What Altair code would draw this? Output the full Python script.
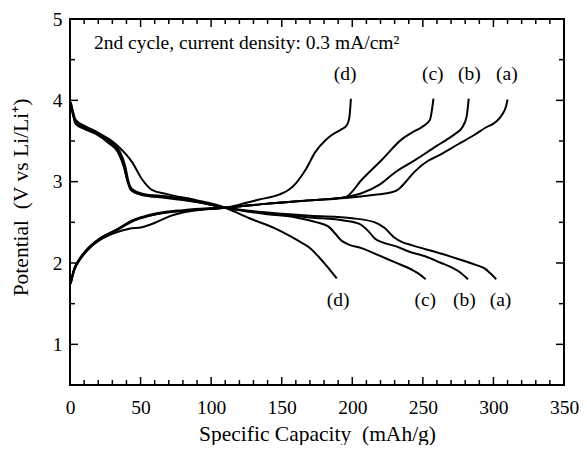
import altair as alt
import pandas as pd

# ---------------- data ----------------
# discharge curves (voltage falls with capacity)
dis_a_cap = [0.5, 2, 4, 10, 18, 27, 34, 38, 40.5, 43, 50, 68, 90, 110, 140, 170, 200, 216, 223, 230, 235, 242, 252, 264, 275, 287, 294, 298, 302]
dis_a_v = [3.97, 3.85, 3.72, 3.66, 3.60, 3.49, 3.37, 3.21, 3.02, 2.90, 2.84, 2.80, 2.75, 2.68, 2.62, 2.58, 2.55, 2.50, 2.43, 2.31, 2.26, 2.22, 2.17, 2.11, 2.05, 1.98, 1.93, 1.87, 1.80]
dis_b_cap = [0.5, 2, 4, 10, 18, 27, 34, 38, 41, 44, 52, 68, 90, 110, 140, 170, 195, 205, 212, 216, 222, 230, 242, 252, 263, 270, 276, 282]
dis_b_v = [3.95, 3.83, 3.71, 3.65, 3.59, 3.48, 3.36, 3.19, 3.00, 2.89, 2.84, 2.81, 2.75, 2.68, 2.61, 2.56, 2.52, 2.48, 2.38, 2.30, 2.25, 2.21, 2.13, 2.08, 2.00, 1.95, 1.89, 1.80]
dis_c_cap = [0.5, 2, 4, 10, 18, 28, 35, 39, 41.5, 44, 52, 68, 90, 110, 140, 160, 175, 183, 188, 192, 197, 207, 218, 230, 242, 247, 252]
dis_c_v = [3.96, 3.84, 3.73, 3.67, 3.61, 3.50, 3.38, 3.20, 3.00, 2.91, 2.85, 2.82, 2.76, 2.68, 2.60, 2.56, 2.50, 2.45, 2.36, 2.28, 2.23, 2.18, 2.10, 2.01, 1.92, 1.87, 1.80]
dis_d_cap = [0.5, 2, 4, 10, 18, 28, 35, 44, 51, 58, 68, 90, 110, 127, 146, 156, 164, 171, 176, 183, 189]
dis_d_v = [3.98, 3.87, 3.76, 3.69, 3.62, 3.52, 3.42, 3.24, 3.03, 2.90, 2.85, 2.77, 2.68, 2.55, 2.42, 2.33, 2.25, 2.17, 2.08, 1.94, 1.81]

# charge curves (voltage rises with capacity)
chg_a_cap = [0.5, 3, 7, 11, 21, 32, 42, 51, 61, 70, 80, 95, 110, 140, 170, 195, 216, 228, 233, 237, 244, 254, 261, 275, 287, 294, 302, 306, 309, 310]
chg_a_v = [1.76, 1.93, 2.05, 2.14, 2.28, 2.37, 2.42, 2.44, 2.50, 2.57, 2.62, 2.66, 2.68, 2.73, 2.77, 2.80, 2.84, 2.87, 2.91, 2.98, 3.12, 3.26, 3.32, 3.46, 3.58, 3.66, 3.74, 3.82, 3.93, 4.01]
chg_b_cap = [0.5, 3, 7, 11, 21, 32, 44, 56, 68, 80, 95, 110, 140, 170, 195, 207, 219, 230, 245, 259, 268, 273, 278, 281, 282.5]
chg_b_v = [1.75, 1.91, 2.04, 2.13, 2.29, 2.39, 2.51, 2.58, 2.62, 2.64, 2.66, 2.68, 2.73, 2.77, 2.81, 2.86, 2.96, 3.11, 3.27, 3.43, 3.53, 3.59, 3.67, 3.80, 4.02]
chg_c_cap = [0.5, 3, 7, 11, 21, 32, 44, 56, 68, 80, 95, 110, 140, 170, 195, 207, 221, 235, 242, 250, 255, 257.5]
chg_c_v = [1.74, 1.92, 2.05, 2.14, 2.30, 2.40, 2.52, 2.59, 2.63, 2.65, 2.67, 2.68, 2.73, 2.77, 2.81, 3.03, 3.27, 3.52, 3.60, 3.68, 3.76, 4.02]
chg_d_cap = [0.5, 3, 7, 11, 21, 32, 44, 56, 68, 80, 95, 110, 125, 134, 148, 155, 160, 164, 167, 174, 181, 186, 192, 196, 198, 199]
chg_d_v = [1.77, 1.93, 2.06, 2.15, 2.30, 2.40, 2.52, 2.58, 2.62, 2.64, 2.66, 2.68, 2.74, 2.78, 2.84, 2.90, 2.98, 3.07, 3.15, 3.37, 3.51, 3.58, 3.64, 3.69, 3.80, 4.02]

# curve labels
top_labels = ["(d)", "(c)", "(b)", "(a)"]
top_label_cap = [195, 257, 283, 309.5]
top_label_v = [4.32, 4.32, 4.32, 4.32]
bottom_labels = ["(d)", "(c)", "(b)", "(a)"]
bottom_label_cap = [190, 251.7, 279.5, 305]
bottom_label_v = [1.54, 1.54, 1.54, 1.54]

note_text = ["2nd cycle, current density: 0.3 mA/cm\u00b2"]
note_cap = [17]
note_v = [4.70]

# axis ticks
x_major = [0, 50, 100, 150, 200, 250, 300, 350]
x_minor = [v for v in range(0, 351, 10) if v % 50 != 0]
y_major = [1, 2, 3, 4, 5]
y_minor = [1.5, 2.5, 3.5, 4.5]

# ---------------- build table ----------------
curves = {
    "dis_a": (dis_a_cap, dis_a_v), "dis_b": (dis_b_cap, dis_b_v),
    "dis_c": (dis_c_cap, dis_c_v), "dis_d": (dis_d_cap, dis_d_v),
    "chg_a": (chg_a_cap, chg_a_v), "chg_b": (chg_b_cap, chg_b_v),
    "chg_c": (chg_c_cap, chg_c_v), "chg_d": (chg_d_cap, chg_d_v),
}
rows = []
for name, (cs, vs) in curves.items():
    for i, (c, v) in enumerate(zip(cs, vs)):
        rows.append({"curve": name, "i": i, "cap": c, "v": v})
df = pd.DataFrame(rows)

W, H = 494, 366
FONT = "Liberation Serif"
xs = alt.Scale(domain=[0, 350], nice=False, zero=False)
ys = alt.Scale(domain=[0.5, 5], nice=False, zero=False)

x_axis = alt.Axis(
    values=x_major, title="Specific Capacity\u00a0 (mAh/g)", ticks=False, tickSize=0,
    domain=False, grid=False, labelPadding=13, labelFontSize=19.5, titleFontSize=21.5,
    titleFontWeight="normal", titleY=55, titleBaseline="alphabetic", labelFlush=False,
    labelFont=FONT, titleFont=FONT, labelColor="black", titleColor="black")
y_axis = alt.Axis(
    values=y_major, title="Potential\u00a0 (V vs Li/Li\u207a)", ticks=False, tickSize=0,
    domain=False, grid=False, labelPadding=8, labelFontSize=19.5, titleFontSize=21.5,
    titleFontWeight="normal", titleX=-49, titleY=178, titleAngle=-90,
    titleBaseline="middle", titleAlign="center", labelFlush=False,
    labelFont=FONT, titleFont=FONT, labelColor="black", titleColor="black")

def X(f):
    return alt.X(f, scale=xs, axis=x_axis)

def Y(f):
    return alt.Y(f, scale=ys, axis=y_axis)

lines = alt.Chart(df).mark_line(color="black", strokeWidth=2, interpolate="monotone").encode(
    x=X("cap:Q"), y=Y("v:Q"), detail="curve:N", order="i:Q")

def tick_layer(vals, axis, length):
    d = pd.DataFrame({"t": vals})
    base = alt.Chart(d).mark_rule(color="black", strokeWidth=1.5)
    if axis == "x":
        a = base.encode(x=X("t:Q"), y=alt.value(H), y2=alt.value(H - length))
        b = base.encode(x=X("t:Q"), y=alt.value(0), y2=alt.value(length))
    else:
        a = base.encode(y=Y("t:Q"), x=alt.value(0), x2=alt.value(length))
        b = base.encode(y=Y("t:Q"), x=alt.value(W), x2=alt.value(W - length))
    return a + b

ticks = (tick_layer(x_major, "x", 8) + tick_layer(x_minor, "x", 5)
         + tick_layer(y_major, "y", 8) + tick_layer(y_minor, "y", 5))

lab_df = pd.DataFrame({"t": top_labels + bottom_labels,
                       "cap": top_label_cap + bottom_label_cap,
                       "v": top_label_v + bottom_label_v})
labels = alt.Chart(lab_df).mark_text(font=FONT, fontSize=19.5, color="black", align="center", baseline="middle").encode(
    x=X("cap:Q"), y=Y("v:Q"), text="t:N")

note_df = pd.DataFrame({"t": note_text, "cap": note_cap, "v": note_v})
note = alt.Chart(note_df).mark_text(font=FONT, fontSize=19.5, color="black", align="left", baseline="middle").encode(
    x=X("cap:Q"), y=Y("v:Q"), text="t:N")

chart = alt.layer(lines, ticks, labels, note).properties(
    width=W, height=H,
    background="white",
    autosize=alt.AutoSizeParams(type="none"),
    padding={"left": 62, "top": 11, "right": 15, "bottom": 60},
).configure_view(stroke="black", strokeWidth=2)

chart.save("out.html", embed_options={"renderer": "svg", "actions": False})
